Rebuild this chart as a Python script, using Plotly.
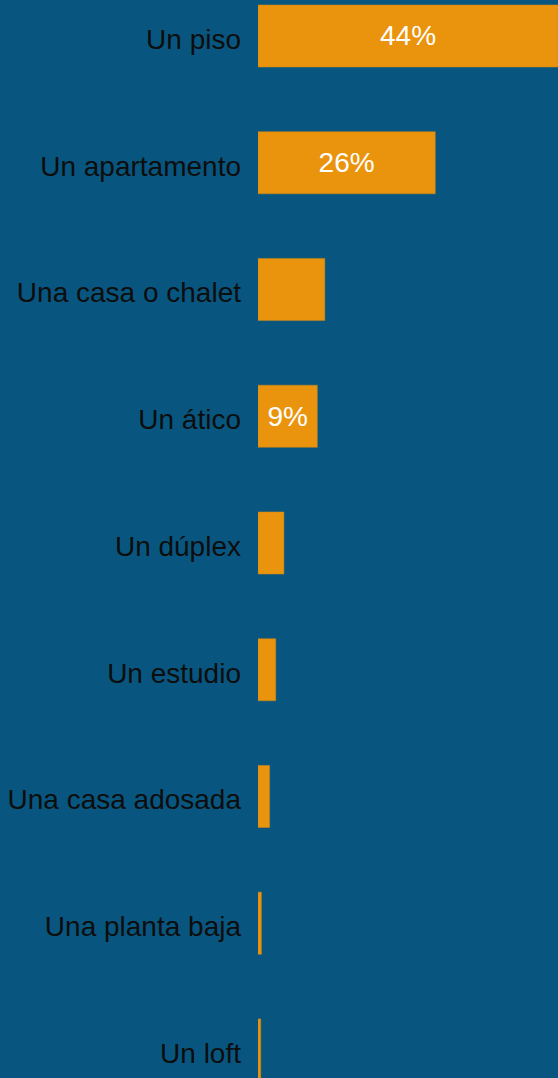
import plotly.graph_objects as go

categories = ["Un piso", "Un apartamento", "Una casa o chalet", "Un ático", "Un dúplex",
              "Un estudio", "Una casa adosada", "Una planta baja", "Un loft"]
values = [44, 26, 9.8, 8.7, 3.8, 2.6, 1.7, 0.5, 0.4]
labels = ["44%", "26%", "", "9%", "", "", "", "", ""]

bg = "#08567F"
bar_color = "#EA940D"

fig = go.Figure(go.Bar(
    x=values,
    y=categories,
    orientation="h",
    text=labels,
    textposition="inside",
    insidetextanchor="middle",
    textfont=dict(color="white", size=28, family="Liberation Sans, Arial, sans-serif"),
    marker=dict(color=bar_color, line=dict(color="#C8861A", width=0.5)),
    hoverinfo="skip",
))

fig.update_layout(
    width=558,
    height=1078,
    margin=dict(l=258, r=0, t=0, b=0),
    paper_bgcolor=bg,
    plot_bgcolor=bg,
    bargap=0.51,
    showlegend=False,
    font=dict(family="Liberation Sans, Arial, sans-serif", color="#0d0d0d", size=28),
    uniformtext=dict(minsize=10, mode="show"),
)
fig.update_xaxes(range=[0, 44], visible=False, fixedrange=True)
fig.update_yaxes(
    range=[8.221, -0.284],
    showgrid=False,
    zeroline=False,
    showline=False,
    ticks="",
    ticklabelstandoff=16,
    ticklabelshift=-3,
    tickfont=dict(size=28, color="#0d0d0d"),
    fixedrange=True,
)

# drop the page margin so the chart fills the window
fig.write_html("out.html", config={"displayModeBar": False},
               post_script="document.body.style.margin='0';document.body.style.overflow='hidden';")
